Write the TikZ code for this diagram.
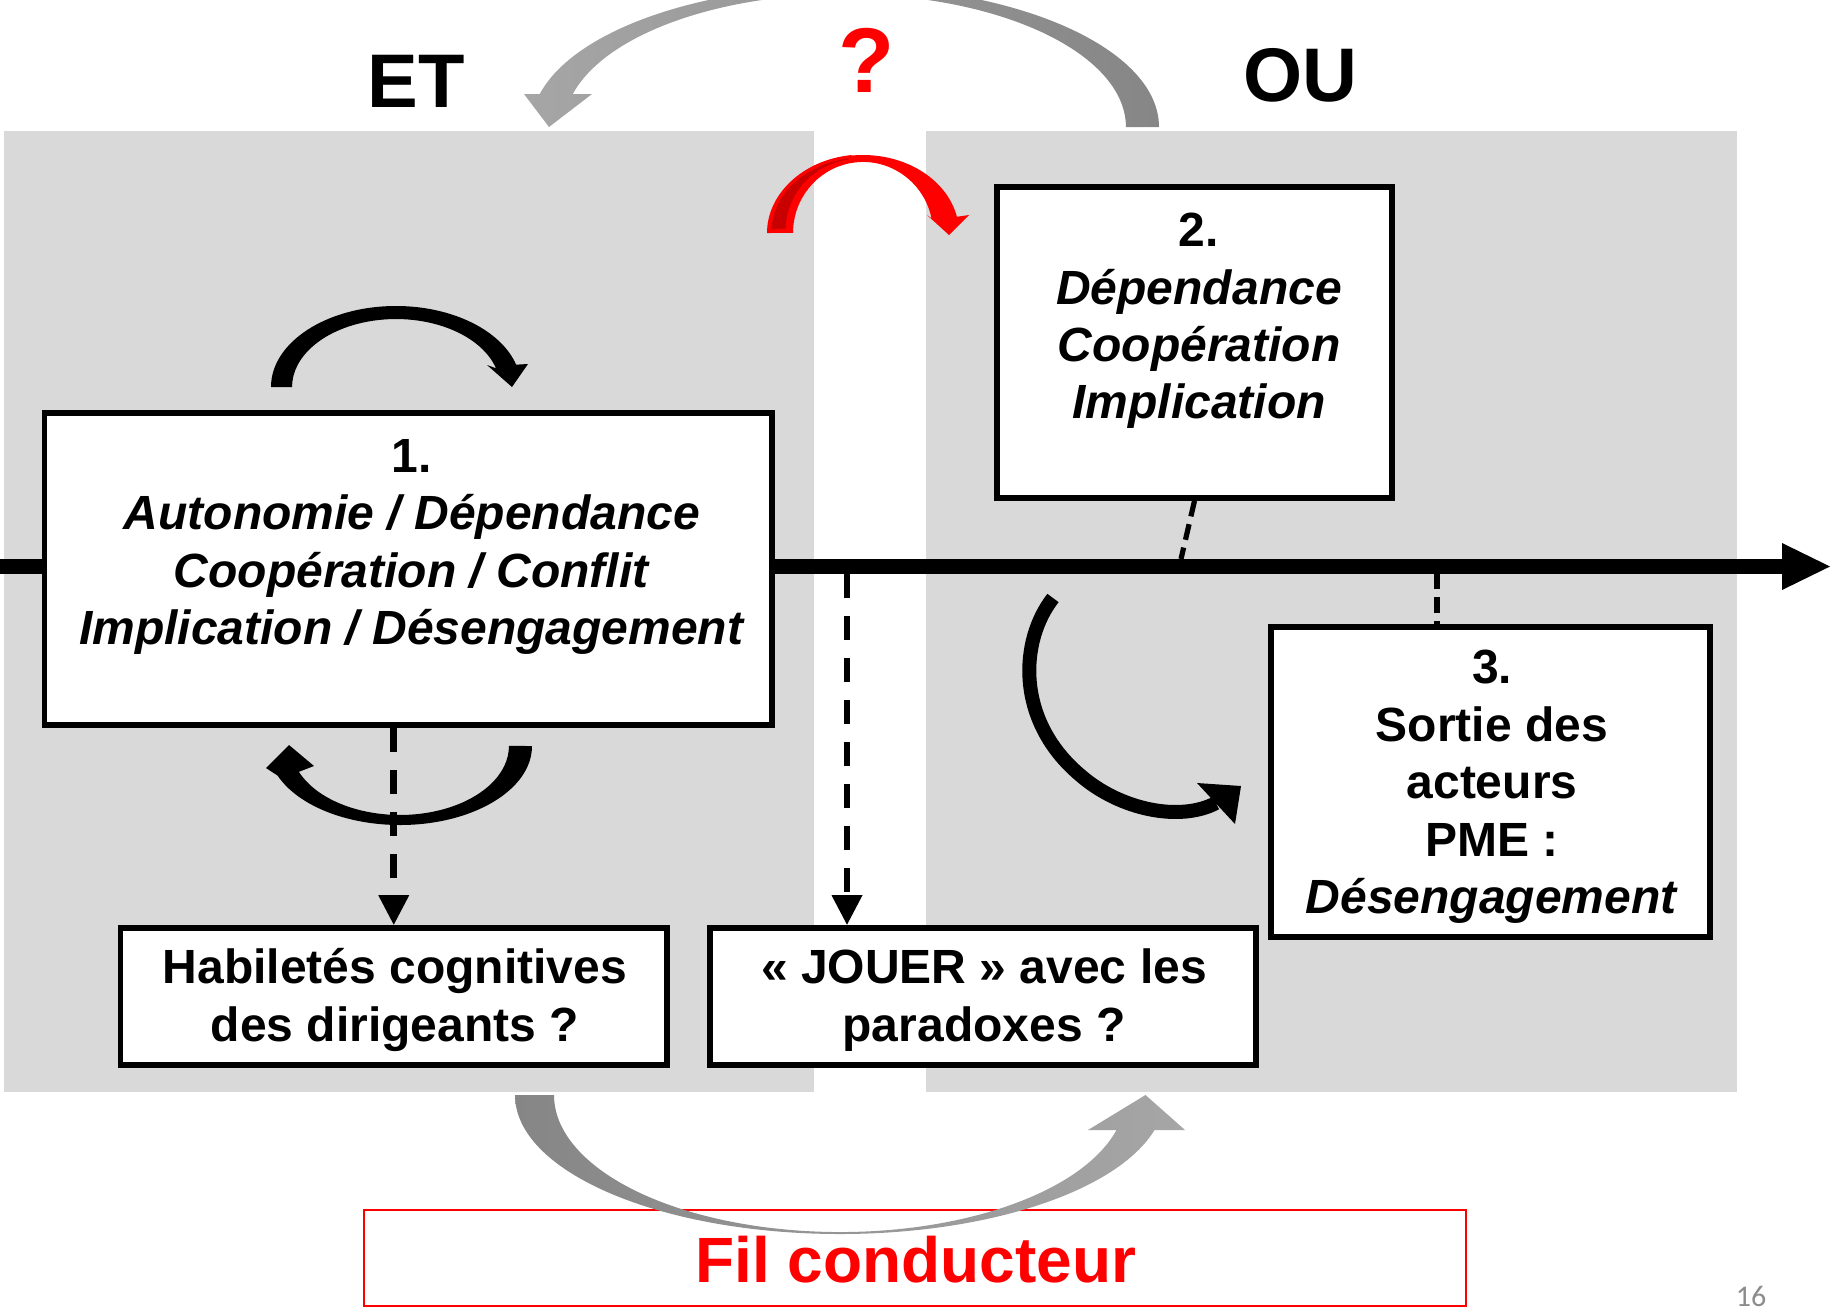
\documentclass[tikz,border=0pt]{standalone}
\usepackage{fontspec}
\setmainfont{Liberation Sans}
\newfontfamily\pagefont{Carlito}
\usetikzlibrary{arrows.meta}
\definecolor{panel}{HTML}{D9D9D9}
\definecolor{gdark}{HTML}{868686}
\definecolor{glight}{HTML}{A6A6A6}
\definecolor{redx}{HTML}{FF0000}
\definecolor{darkredx}{HTML}{C80000}
\definecolor{pagegray}{HTML}{8C8C8C}
\begin{document}
\begin{tikzpicture}[x=0.5pt,y=0.5pt,
  boxstyle/.style={draw=black, line width=2.8pt, fill=white, inner sep=0pt},
  txt/.style={align=center, font=\fontsize{24}{28.7}\selectfont\bfseries, inner sep=0pt},
  bigtxt/.style={font=\fontsize{38}{44}\selectfont\bfseries, inner sep=0pt},
  dashlong/.style={line width=3.3pt, dash pattern=on 12pt off 9pt},
  dashshort/.style={line width=2.6pt, dash pattern=on 8pt off 4pt},
  headtip/.style={-{Triangle[length=15pt,width=14.5pt]}}]
\useasboundingbox (0,0) rectangle (1835,-1312);
\clip (0,0) rectangle (1835,-1312);
% panels
\fill[panel] (3.5,-131) rectangle (814,-1092);
\fill[panel] (926,-131) rectangle (1736.5,-1092);
% timeline
\coordinate (tl0) at (0,-566.5);
\coordinate (tl1) at (1784,-566.5);
\draw[line width=7.5pt] (tl0) -- (tl1);
\fill (1782,-543) -- (1830,-566.5) -- (1782,-590) -- cycle;
% boxes
\node[boxstyle, minimum width=363.75pt, minimum height=156pt] (b1) at (408.3,-569) {};
\node[boxstyle, minimum width=197.5pt, minimum height=155.5pt] (b2) at (1194.5,-342.5) {};
\node[boxstyle, minimum width=219.5pt, minimum height=155pt] (b3) at (1490.5,-782) {};
\node[boxstyle, minimum width=273.25pt, minimum height=68.5pt] (hab) at (393.75,-996.5) {};
\node[boxstyle, minimum width=272.9pt, minimum height=68.5pt] (jou) at (983,-996.5) {};
% dashed connectors
\draw[dashlong, headtip] (b1.south -| hab.north) -- (hab.north);
\coordinate (tm) at (847,-574);
\draw[dashlong, headtip] (tm) -- (tm |- jou.north);
\coordinate (t2) at (1181,-559);
\draw[dashshort] (b2.south) -- (t2);
\coordinate (t3) at (1437,-573);
\draw[dashshort] (t3) -- (t3 |- b3.north);
% texts in boxes
\node[txt] (t1) at (412,-547) {1.\\\textit{Autonomie / Dépendance}\\\textit{Coopération / Conflit}\\\textit{Implication / Désengagement}};
\node[txt] (tt2) at (1199,-321) {2.\\\textit{Dépendance}\\\textit{Coopération}\\\textit{Implication}};
\node[txt] (tt3) at (1492,-787) {3.\\Sortie des\\acteurs\\PME :\\\textit{Désengagement}};
\node[txt] (thab) at (395,-1000) {Habiletés cognitives\\des dirigeants ?};
\node[txt] (tjou) at (984,-1000) {« JOUER » avec les\\paradoxes ?};
% headings
\node[bigtxt] (et) at (416,-81) {ET};
\node[bigtxt] (ou) at (1300,-75) {OU};
\node[font=\fontsize{46}{50}\selectfont\bfseries, text=redx, inner sep=0pt] (q) at (867,-60) {?};
% black arc above box 1
\fill (271,-387) arc[start angle=180, end angle=16, x radius=125, y radius=81]
  -- (528,-364) -- (512,-387) -- (487,-365) -- (496,-368.3)
  arc[start angle=16, end angle=180, x radius=104, y radius=68] -- cycle;
% black arc below box 1
\fill (532,-746) arc[start angle=0, end angle=-158, x radius=132, y radius=79]
  -- (266,-768) -- (289,-745) -- (314,-766) -- (298.9,-771.8)
  arc[start angle=-158, end angle=0, x radius=109, y radius=69] -- cycle;
% black arc toward box 3
\draw[line width=7pt] (1053,-598) .. controls (1020,-640) and (1015,-720) .. (1080,-775)
  .. controls (1120,-810) and (1180,-822) .. (1216,-803);
\fill (1197,-783) -- (1241,-786) -- (1235,-824) -- cycle;
% red arc
\fill[redx] (767,-233) arc[start angle=180, end angle=12, x radius=96, y radius=78]
  -- (969,-215) -- (949,-235) -- (927,-215) -- (931.5,-218.2)
  arc[start angle=12, end angle=180, x radius=70, y radius=71] -- cycle;
\filldraw[fill=darkredx, draw=redx, line width=1.5pt] (770,-231) arc[start angle=180, end angle=98, x radius=93, y radius=75]
  -- ++(0,-4) arc[start angle=98, end angle=180, x radius=73, y radius=70] -- cycle;
% top gray arrow
\shade[left color=glight, right color=gdark] (1159,-127) arc[start angle=0, end angle=166.5, x radius=314, y radius=141]
  -- (524,-94) -- (549,-127) -- (592,-94) -- (572.8,-94)
  arc[start angle=165.6, end angle=0, x radius=281, y radius=133] -- cycle;
% bottom frame and text
\node[draw=redx, line width=0.7pt, minimum width=551pt, minimum height=48pt, inner sep=0pt] (fil) at (915,-1258) {};
\shade[left color=gdark, right color=glight] (515,-1095) arc[start angle=180, end angle=345.4, x radius=325, y radius=139]
  -- (1185,-1130) -- (1145.5,-1095) -- (1088,-1130) -- (1116.5,-1130)
  arc[start angle=345.2, end angle=180, x radius=286, y radius=137] -- cycle;
\node[font=\fontsize{32}{38}\selectfont\bfseries, text=redx, inner sep=0pt] (filtxt) at (916,-1260) {Fil conducteur};
\node[font=\pagefont\fontsize{15}{18}\selectfont, text=pagegray, inner sep=0pt] (pg) at (1751,-1296) {16};
\end{tikzpicture}
\end{document}
